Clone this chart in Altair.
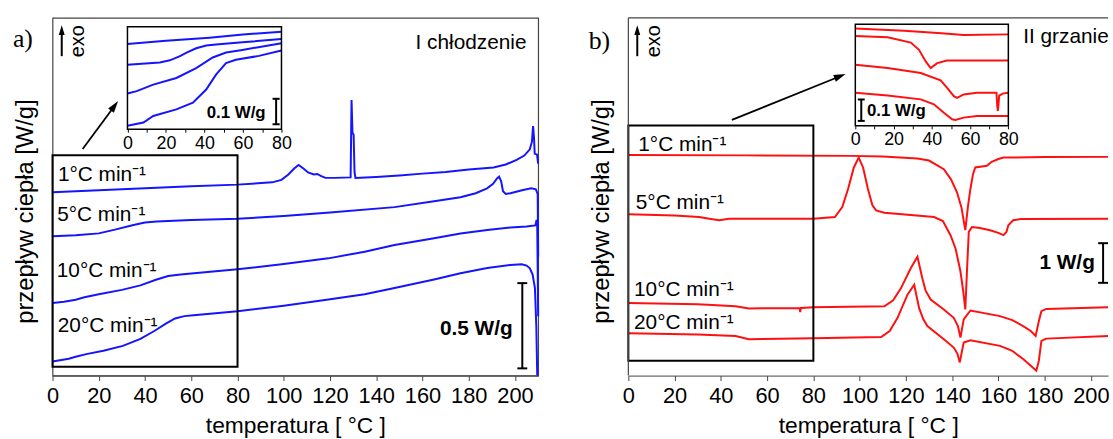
import altair as alt
import pandas as pd

BLUE = "#1414ff"
RED = "#ff1010"
SANS = "Liberation Sans"
SERIF = "Liberation Serif"
FRAME = "#444444"

RATES = ["1", "5", "10", "20"]
RATE_LABELS = ["1°C min⁻¹", "5°C min⁻¹", "10°C min⁻¹", "20°C min⁻¹"]

# ---------------- panel a: I chłodzenie (main plot, offset heat-flow units) ----------------
a1_T = [0, 20, 40, 60, 80, 95, 99, 102, 104.5, 106.4, 108.5, 110.5, 113, 114.5, 116, 118, 122, 128.9, 129.3, 129.7,
        130.2, 130.6, 131, 140, 150, 160, 170, 180, 190.7, 196, 200.7, 204, 206.4, 207.3, 207.8, 208.2, 208.5, 209.5, 210]
a1_v = [185, 187, 189, 191, 192.7, 195, 197.5, 203, 209, 212.5, 209, 205, 203, 203.5, 201.5, 199.5, 199.5, 200, 278, 245,
        243, 205, 199.5, 200.5, 202, 203.8, 205.5, 208, 210, 213, 217.7, 222, 228.3, 236, 251.7, 240, 224, 223, 214]
a5_T = [0, 10, 20, 27, 35, 40, 45, 60, 80, 100, 120, 147.9, 165, 176.4, 183, 187.9, 190.5, 192.2, 193.1, 194,
        194.8, 196, 198, 203, 207, 209, 209.8, 210]
a5_v = [140.7, 141.5, 143.5, 147.3, 152, 154.5, 155.5, 157, 158.3, 161, 164.5, 170, 176, 180, 184, 189, 193.5, 199, 200.7, 196,
        186, 183.3, 184, 187, 189, 188, 183, 120]
a10_T = [0, 5, 10, 13.8, 20, 30, 38, 44.7, 50, 55.4, 60, 80, 100, 119.3, 135, 147.9, 165, 176.4, 188, 198,
         205, 208.8, 209.3, 209.6, 210]
a10_v = [73.3, 74.5, 76.5, 79, 82, 86.5, 91, 96.7, 100.5, 102, 103, 107.3, 112.5, 118.3, 125, 131.7, 138.5, 143.3, 147, 149.5,
         150.5, 151.5, 157, 152, 60]
a20_T = [0, 7, 10, 14.6, 22, 30.4, 38, 44, 49, 53, 57, 61, 80, 100, 119.3, 135, 147.9, 165, 176.4, 188,
         197.9, 202.9, 205, 206.4, 207.6, 208.6, 209.2, 209.6]
a20_v = [14.3, 17, 19, 21.7, 25, 30, 37, 45, 52.5, 57.7, 60, 61, 65, 70.5, 76.7, 82, 88.3, 97, 103.3, 108.5,
         111.7, 112.3, 111, 108.3, 102, 88.3, 50, 0]

# panel a inset (0-80 °C, magnified)
ai1_T = [0, 20, 42.6, 60, 80]
ai1_v = [86, 89.2, 92.4, 95.5, 98.4]
ai5_T = [0, 16.8, 22, 27, 31, 35.7, 40.9, 46, 59.7, 80]
ai5_v = [65, 67.4, 69.5, 73.4, 77.5, 81.7, 84.4, 85.5, 87.7, 91]
ai10_T = [0, 4.8, 13.4, 25.4, 35.7, 44.3, 51.2, 59.7, 80]
ai10_v = [36, 38.4, 45, 51.7, 61.7, 72.4, 77.4, 80, 86.7]
ai20_T = [0, 8.3, 13.4, 25.4, 34, 40.9, 46, 51.2, 56.3, 68.3, 80]
ai20_v = [3.4, 6.7, 13.4, 20, 26.7, 40, 55, 66.7, 70, 74, 79.4]

# ---------------- panel b: II grzanie ----------------
b1_T = [0, 50, 96.3, 110, 125, 130, 136.4, 139.5, 142.1, 144, 145.7, 146.8, 147.9, 149, 150, 155, 157.1, 160, 162.2, 180, 207.4]
b1_v = [222.7, 222.2, 221.7, 221, 219, 217, 208.3, 198, 185, 170, 146.7, 170, 188.3, 203, 210, 211.7, 215.7, 218.5, 220, 220.5, 220.7]
b5_T = [0, 20, 30.6, 35, 39.3, 43.6, 80, 89.3, 92.5, 95, 97.5, 99.6, 101.5, 103.6, 105.5, 107.1, 110.7, 132.2, 136, 139.3,
        141.5, 143.6, 144.8, 145.7, 146.5, 147.2, 148.6, 152, 156.4, 160, 162.2, 163.5, 164.3, 166.4, 170, 207.4]
b5_v = [162.7, 161.5, 160, 158.3, 156.7, 158.3, 158.3, 160, 170, 188.3, 210, 220, 210, 188.3, 172, 166.7, 164.3, 160, 156, 141.7,
        128, 105, 85, 66.7, 110, 145, 150, 149, 146.7, 144, 141.7, 145, 151.7, 156.7, 158, 158.3]
b10_T = [0, 30, 46.4, 52.1, 74, 74.3, 74.6, 80, 110.7, 114.5, 117.9, 122.1, 125, 127.1, 128.5, 130.7, 136.4, 140.7, 142.5, 143.6,
         145, 147.9, 160.7, 166, 170.7, 174, 176.1, 177.5, 178.6, 180.7, 207.4]
b10_v = [73.3, 72, 70, 67.7, 68.3, 64, 68.3, 69, 70, 76, 88.3, 108.3, 120, 98.3, 86, 76.7, 66.7, 58.3, 50, 38.3,
         56.7, 65.7, 60, 56, 50, 45, 40, 55, 65, 67.3, 69]
b20_T = [0, 30, 46.4, 52.1, 80, 109.3, 113, 116.4, 120.7, 123.6, 125.7, 127.5, 129.3, 136.4, 140.7, 142.3, 143.3, 145, 147.9, 160.7,
         166, 170.7, 174, 176.4, 177.5, 178.6, 180.7, 207.4]
b20_v = [42.7, 41.5, 40, 36.7, 37.7, 39, 45, 58.3, 81.7, 91.7, 68.3, 57, 50, 36.7, 28.3, 22, 13.3, 33.3, 35.7, 30,
         25, 16.7, 10, 5, 15, 35, 37.3, 40]

# panel b inset
bi1_T = [0, 25.6, 45, 56.7, 80]
bi1_v = [98.3, 96, 93.5, 91.7, 92.3]
bi5_T = [0, 16.9, 29, 33.3, 36.8, 39.4, 42.8, 48, 60.1, 80]
bi5_v = [90.7, 89.3, 84, 76.7, 65, 58.3, 63.3, 66, 66, 66]
bi10_T = [0, 16.9, 34.2, 44.6, 48, 51.5, 53.2, 56.7, 63.5, 73.8, 74.2, 74.5, 74.8, 75.2, 77, 80]
bi10_v = [61.7, 58.3, 53.3, 46, 38.3, 30, 28.3, 31.7, 33.3, 33.3, 20, 15, 20, 30.5, 32.5, 33.3]
bi20_T = [0, 16.9, 34.2, 41.1, 46.3, 50.6, 52.3, 56.7, 63.5, 80]
bi20_v = [33.3, 30.7, 26.7, 21.7, 13.3, 6.7, 6, 8.3, 10, 10]

XTICKS_MAIN = list(range(0, 211, 10))
XTICKS_INSET = list(range(0, 81, 10))

H = 361
WA = 490
WB = 484


def frame(T_lists, v_lists):
    rows = []
    for r, T, v in zip(RATES, T_lists, v_lists):
        for i, (t, y) in enumerate(zip(T, v)):
            rows.append({"rate": r, "i": i, "T": t, "v": y})
    return pd.DataFrame(rows)


ONE = pd.DataFrame({"k": [0]})


def text(s, x, y, size=21, align="left", baseline="alphabetic", weight="normal", font=SANS, angle=0):
    kw = dict(text=s, fontSize=size, align=align, baseline=baseline, fontWeight=weight, font=font, color="black")
    if angle:
        kw["angle"] = angle
    return alt.Chart(ONE).mark_text(**kw).encode(x=alt.value(x), y=alt.value(y))


def seg(x1, y1, x2, y2, w=2, color="black"):
    return alt.Chart(ONE).mark_rule(color=color, strokeWidth=w).encode(
        x=alt.value(x1), y=alt.value(y1), x2=alt.value(x2), y2=alt.value(y2))


def head(x, y, size, angle=0):
    kw = dict(shape="M0,-1L0.6,1L-0.6,1Z", filled=True, color="black", size=size, opacity=1, strokeWidth=0)
    if angle:
        kw["angle"] = angle
    return alt.Chart(ONE).mark_point(**kw).encode(x=alt.value(x), y=alt.value(y))


def main_layer(df, color, xmax, box_lo, box_hi, yaxis_domain):
    x = alt.X("T:Q", scale=alt.Scale(domain=[0, xmax], nice=False, zero=False),
              axis=alt.Axis(values=XTICKS_MAIN, labelExpr="datum.value % 20 == 0 ? datum.label : ''",
                            tickSize=5, tickColor=FRAME, domainColor=FRAME, labelFontSize=22, labelFont=SANS,
                            labelColor="black", labelPadding=5, labelFlush=False, labelOverlap=False,
                            title="temperatura [ °C ]", titleFont=SANS, titleFontSize=23, titleFontWeight="normal",
                            titleColor="black", titleY=57, titleBaseline="alphabetic", grid=False))
    y = alt.Y("v:Q", scale=alt.Scale(domain=[0, H], nice=False, zero=False),
              axis=alt.Axis(labels=False, ticks=False, domain=yaxis_domain, domainColor=FRAME,
                            title="przepływ ciepła [W/g]", titleFont=SANS, titleFontSize=24,
                            titleFontWeight="normal", titleColor="black", titleX=-27, titleY=195,
                            titleAngle=270, titleAlign="center", titleBaseline="middle", grid=False))
    lines = alt.Chart(df).mark_line(color=color, strokeWidth=2).encode(x=x, y=y, detail="rate:N", order="i:Q")
    box = alt.Chart(ONE).mark_rect(fillOpacity=0, stroke="black", strokeWidth=2).encode(
        x=alt.datum(0), x2=alt.datum(80), y=alt.datum(box_lo), y2=alt.datum(box_hi))
    return lines, box


def inset_layer(df, color, xr, yr, ymax):
    x = alt.X("T:Q", scale=alt.Scale(domain=[0, 80], range=xr, nice=False, zero=False),
              axis=alt.Axis(orient="bottom", offset=-(H - yr[0]), values=XTICKS_INSET,
                            labelExpr="datum.value % 20 == 0 ? datum.label : ''", tickSize=3, tickColor="black",
                            domain=False, title=None, labelFontSize=18, labelFont=SANS, labelColor="black",
                            labelPadding=2, labelFlush=False, labelOverlap=False, grid=False))
    y = alt.Y("v:Q", scale=alt.Scale(domain=[0, ymax], range=yr, nice=False, zero=False), axis=None)
    lines = alt.Chart(df).mark_line(color=color, strokeWidth=2).encode(x=x, y=y, detail="rate:N", order="i:Q")
    box = alt.Chart(ONE).mark_rect(fillOpacity=0, stroke="black", strokeWidth=1.5).encode(
        x=alt.datum(0), x2=alt.datum(80), y=alt.datum(0), y2=alt.datum(ymax))
    return alt.layer(lines, box)


# ---------------- panel a ----------------
dfa = frame([a1_T, a5_T, a10_T, a20_T], [a1_v, a5_v, a10_v, a20_v])
dfai = frame([ai1_T, ai5_T, ai10_T, ai20_T], [ai1_v, ai5_v, ai10_v, ai20_v])
la, boxa = main_layer(dfa, BLUE, 210, 9, 222.3, False)
main_a = alt.layer(
    la, boxa,
    text("a)", -40, 29, size=26, font=SERIF),
    seg(9.3, 38.7, 9.3, 14, 2), head(9.3, 12.4, 100),
    text("exo", 25.6, 23.7, size=20, align="center", baseline="middle", angle=270),
    text("I chłodzenie", 366.3, 31.7, size=21),
    text(RATE_LABELS[0], 5.4, 165), text(RATE_LABELS[1], 4.7, 205),
    text(RATE_LABELS[2], 4.3, 261.7), text(RATE_LABELS[3], 5.3, 317.4),
    seg(30.4, 132.4, 61.4, 90.4, 1.8), head(62.6, 88.8, 144, 36.5),
    seg(474, 267.7, 474, 353.7), seg(469, 267.7, 479, 267.7), seg(469, 353.7, 479, 353.7),
    text("0.5 W/g", 464.3, 314, size=21, align="right", baseline="middle", weight="bold"),
    seg(225.6, 81.7, 225.6, 107.4), seg(222, 81.7, 229.2, 81.7), seg(222, 107.4, 229.2, 107.4),
    text("0.1 W/g", 215, 95.7, size=17, align="right", baseline="middle", weight="bold"),
)
inset_a = inset_layer(dfai, BLUE, [75.6, 231], [112.4, 9], 103.4)
panel_a = alt.layer(main_a, inset_a).resolve_scale(x="independent", y="independent").properties(width=WA, height=H)

# ---------------- panel b ----------------
dfb = frame([b1_T, b5_T, b10_T, b20_T], [b1_v, b5_v, b10_v, b20_v])
dfbi = frame([bi1_T, bi5_T, bi10_T, bi20_T], [bi1_v, bi5_v, bi10_v, bi20_v])
lb, boxb = main_layer(dfb, RED, WB / 2.3335, 15, 252.3, False)
main_b = alt.layer(
    lb, boxb,
    seg(0, 0, WB, 0, 1.2, FRAME), seg(0, 0, 0, H, 1.2, FRAME),
    text("b)", -40, 31, size=26, font=SERIF),
    seg(9, 38.7, 9, 14, 2), head(9, 12.4, 100),
    text("exo", 26, 23.7, size=20, align="center", baseline="middle", angle=270),
    text("II grzanie", 398.4, 25, size=21),
    text(RATE_LABELS[0], 10, 134), text(RATE_LABELS[1], 7.5, 192.4),
    text(RATE_LABELS[2], 5.7, 280.7), text(RATE_LABELS[3], 5.7, 314),
    seg(104.5, 103, 211.8, 59.7, 1.8), head(213.6, 58.9, 144, 68),
    seg(479, 227.4, 479, 267.4), seg(474, 227.4, 484, 227.4), seg(474, 267.4, 484, 267.4),
    text("1 W/g", 470.7, 247.4, size=21, align="right", baseline="middle", weight="bold"),
    seg(235, 82.4, 235, 104), seg(231.5, 82.4, 238.5, 82.4), seg(231.5, 104, 238.5, 104),
    text("0.1 W/g", 240.7, 93.7, size=17, align="left", baseline="middle", weight="bold"),
)
inset_b = inset_layer(dfbi, RED, [229, 383.4], [109, 6.4], 102.6)
panel_b = alt.layer(main_b, inset_b).resolve_scale(x="independent", y="independent").properties(
    width=WB, height=H, view=alt.ViewConfig(stroke="transparent"))

chart = alt.hconcat(panel_a, panel_b, spacing=45).properties(
    padding={"left": 12, "top": 14, "right": 0, "bottom": 0}, background="white"
).configure_view(stroke=FRAME, strokeWidth=1.2).configure_axis(grid=False)

chart.save("out.html", embed_options={"renderer": "svg", "actions": False})
